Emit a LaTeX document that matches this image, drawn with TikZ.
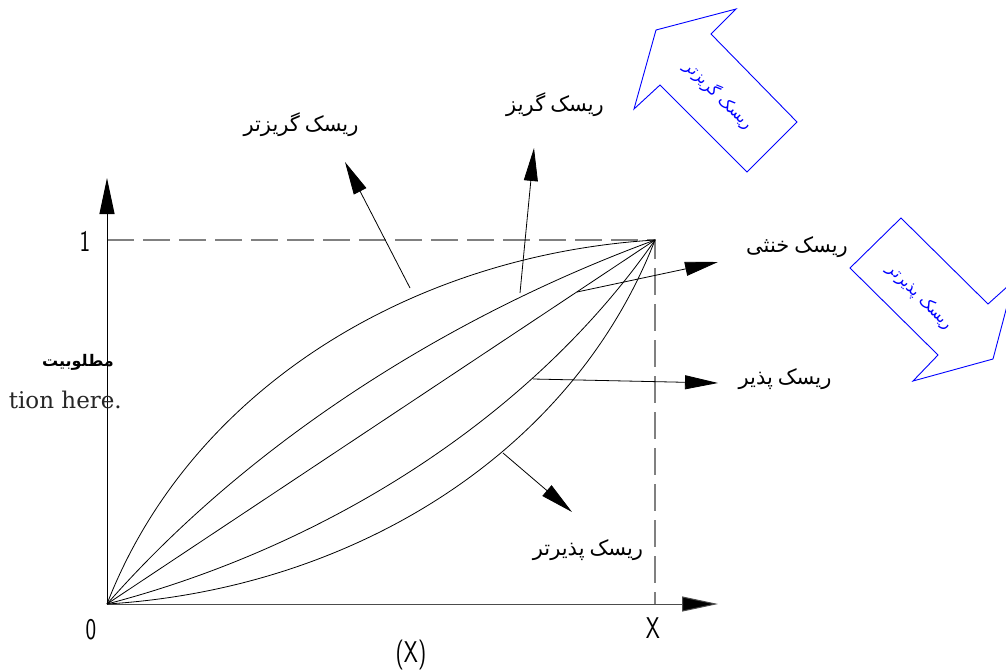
\documentclass[tikz,border=0pt]{standalone}
\usepackage{fontspec}
\usetikzlibrary{arrows.meta}
\newfontfamily\fa[Script=Arabic]{DejaVu Sans}
\newfontfamily\serifb{DejaVu Serif}
\TeXXeTstate=1
\newcommand{\gap}{\hspace{5pt}}
\begin{document}
\begin{tikzpicture}[x=1pt,y=-1pt,
  curve/.style={line width=0.8pt},
  ptr/.style={line width=0.8pt,-{Triangle[length=33pt,width=14pt]}},
  axis/.style={line width=1pt,-{Triangle[length=36pt,width=15pt,fill=black]}},
  guide/.style={gray,line width=1.3pt,dash pattern=on 27pt off 9pt},
  lbl/.style={font=\fa\fontsize{21}{24}\selectfont,inner sep=0},
  cad/.style={font=\sffamily\fontsize{30}{30}\selectfont,inner sep=0},
  barrow/.style={blue,line width=0.9pt},
  blbl/.style={blue,font=\fa\fontsize{16}{18}\selectfont,rotate=-45,inner sep=0}]
\useasboundingbox (0,0) rectangle (1006,670);
\clip (0,0) rectangle (1006,670);
% axes and guides
\coordinate (O) at (107,604);
\coordinate (P) at (655,240);
\coordinate (ytip) at (107,178);
\coordinate (xtip) at (718,604);
\coordinate (y1) at (107,240);
\coordinate (x1) at (655,604);
\draw[guide] (y1) -- (P) -- (x1);
\draw[axis] (O) -- (ytip);
\draw[axis,draw=black!70] (O) -- (xtip);
% curves
\draw[curve] (O) .. controls (190,390) and (410,255) .. (P);
\draw[curve] (O) .. controls (247.8,443.8) and (446.1,316.7) .. (P);
\draw[curve] (O) -- (P);
\draw[curve] (O) .. controls (327.1,546.5) and (532.1,416.9) .. (P);
\draw[curve] (O) .. controls (352,589) and (572,454) .. (P);
% pointer anchors
\coordinate (c1) at (410,288);
\coordinate (t1) at (345,162);
\coordinate (c2) at (520,293);
\coordinate (t2) at (534,148);
\coordinate (c3) at (577,292);
\coordinate (t3) at (718,262);
\coordinate (c4) at (533,379);
\coordinate (t4) at (718,383);
\coordinate (c5) at (503,453);
\coordinate (t5) at (572,512);
\draw[ptr] (c1) -- (t1);
\draw[ptr] (c2) -- (t2);
\draw[ptr] (c3) -- (t3);
\draw[ptr] (c4) -- (t4);
\draw[ptr] (c5) -- (t5);
% labels
\node[lbl] (l1) at (301,125) {\beginR ریسک\gap گریزتر\endR};
\node[lbl] (l2) at (555,105) {\beginR ریسک\gap گریز\endR};
\node[lbl] (l3) at (797,247) {\beginR ریسک\gap خنثی\endR};
\node[lbl] (l4) at (785,379) {\beginR ریسک\gap پذیر\endR};
\node[lbl] (l5) at (588,550) {\beginR ریسک\gap پذیرتر\endR};
\node[inner sep=0,font=\fa\bfseries\fontsize{16}{18}\selectfont] (util) at (78,362) {\beginR مطلوبیت\endR};
\node[inner sep=0,anchor=east,text=black!85,font=\serifb\fontsize{23}{26}\selectfont] (cap) at (122,400) {tion here.};
\node[cad] (one) at (85,241) {\scalebox{0.75}[1]{1}};
\node[cad] (zero) at (91,630) {\scalebox{0.75}[1]{0}};
\node[cad] (xl) at (653,628) {\scalebox{0.75}[1]{X}};
\node[cad] (xx) at (411,655) {\scalebox{0.75}[1]{(X)}};
% blue arrows
\draw[barrow] (656,30) -- (736,9) -- (711,34) -- (797,122) -- (747,172) -- (660,85) -- (634,109) -- cycle;
\node[blbl] (b1) at (719,95) {\beginR ریسک گریزتر\endR};
\draw[barrow] (901,218) -- (988,304) -- (1013.6,281) -- (993,359) -- (913,381) -- (938,355) -- (850,268) -- cycle;
\node[blbl] (b2) at (920,297) {\beginR ریسک پذیرتر\endR};
\end{tikzpicture}
\end{document}
